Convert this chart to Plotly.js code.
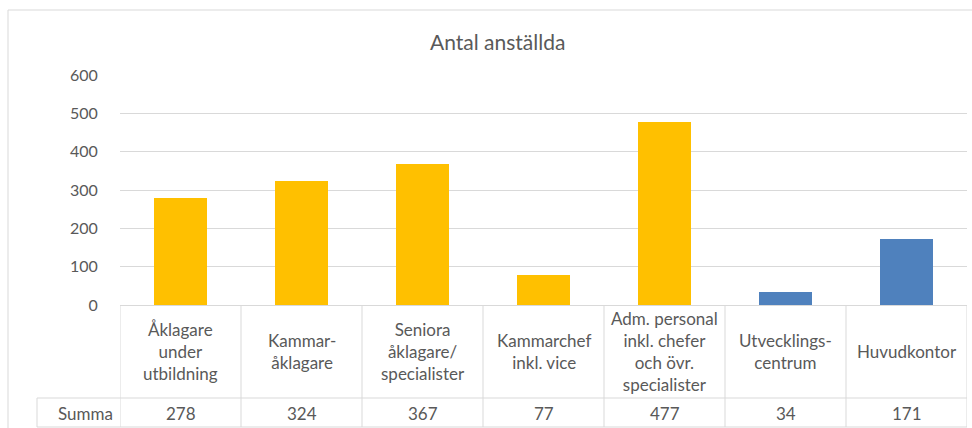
<!DOCTYPE html>
<html>
<head>
<meta charset="utf-8">
<script src="https://cdn.plot.ly/plotly-3.0.1.min.js"></script>
<style>html,body{margin:0;padding:0;background:#fff;}#chart{width:972px;height:428px;}</style>
</head>
<body>
<div id="chart"></div>
<script>
const categories = [
  "Åklagare<br>under<br>utbildning",
  "Kammar-<br>åklagare",
  "Seniora<br>åklagare/<br>specialister",
  "Kammarchef<br>inkl. vice",
  "Adm. personal<br>inkl. chefer<br>och övr.<br>specialister",
  "Utvecklings-<br>centrum",
  "Huvudkontor"
];
const values = [278, 324, 367, 77, 477, 34, 171];
const rowLabel = "Summa";
const chartTitle = "Antal anställda";
const yTicks = [0, 100, 200, 300, 400, 500, 600];

const FONT = "Lato, 'Open Sans', sans-serif";
const TXT = "#595959";
const LINE = "#D9D9D9";
const YELLOW = "#FFC000";
const BLUE = "#4F81BD";

// pixel-to-paper helpers (plot area: x 120..967, y 75..305)
const L = 120, R = 967, T = 75, B = 305;
const px = v => (v - L) / (R - L);
const py = v => (B - v) / (B - T);

const xIdx = categories.map((c, i) => i);
const colors = xIdx.map(i => (i < 5 ? YELLOW : BLUE));

const shapes = [];
// outer chart border
shapes.push({type: "rect", xref: "paper", yref: "paper", x0: px(8), x1: px(1100), y0: py(10), y1: py(600),
  line: {color: LINE, width: 1}, fillcolor: "rgba(0,0,0,0)", layer: "below"});
// vertical table lines at category boundaries
for (let i = 0; i <= categories.length; i++) {
  shapes.push({type: "line", xref: "x", yref: "paper", x0: i - 0.5, x1: i - 0.5, y0: 0, y1: py(427),
    line: {color: LINE, width: 1}});
}
// left edge of summa cell
shapes.push({type: "line", xref: "paper", yref: "paper", x0: px(37), x1: px(37), y0: py(398), y1: py(427),
  line: {color: LINE, width: 1}});
// horizontal table lines
[398, 427].forEach(yy => shapes.push({type: "line", xref: "paper", yref: "paper", x0: px(37), x1: 1, y0: py(yy), y1: py(yy),
  line: {color: LINE, width: 1}}));

const annotations = [];
categories.forEach((c, i) => {
  annotations.push({xref: "x", yref: "paper", x: i, y: py(351), text: c, showarrow: false,
    xanchor: "center", yanchor: "middle", align: "center", font: {family: FONT, size: 17, color: TXT}});
  annotations.push({xref: "x", yref: "paper", x: i, y: py(413), text: String(values[i]), showarrow: false,
    xanchor: "center", yanchor: "middle", font: {family: FONT, size: 17, color: TXT}});
});
annotations.push({xref: "paper", yref: "paper", x: px(115), y: py(413), text: rowLabel, showarrow: false,
  xanchor: "right", yanchor: "middle", font: {family: FONT, size: 17, color: TXT}});

const trace = {
  type: "bar",
  x: xIdx,
  y: values,
  width: 0.44,
  marker: {color: colors, line: {width: 0}},
  hoverinfo: "none"
};

const layout = {
  width: 972, height: 428,
  margin: {l: L, r: 972 - R, t: T, b: 428 - B, pad: 0},
  paper_bgcolor: "#fff", plot_bgcolor: "#fff",
  showlegend: false,
  title: {text: chartTitle, x: 0.512, xanchor: "center", y: 1 - 43 / 428, yanchor: "middle",
    font: {family: FONT, size: 21, color: TXT}},
  xaxis: {type: "linear", range: [-0.5, categories.length - 0.5], showticklabels: false, ticks: "",
    showgrid: false, zeroline: false, showline: true, linecolor: LINE, linewidth: 1, fixedrange: true},
  yaxis: {range: [0, 600], tickvals: yTicks, ticktext: yTicks.map(String), showgrid: true, gridcolor: LINE, gridwidth: 1,
    zeroline: false, showline: false, ticks: "outside", ticklen: 18, tickcolor: "rgba(0,0,0,0)",
    tickfont: {family: FONT, size: 16, color: TXT}, fixedrange: true},
  shapes: shapes,
  annotations: annotations,
  bargap: 0
};

Plotly.newPlot("chart", [trace], layout, {staticPlot: true, displayModeBar: false});
</script>
</body>
</html>
